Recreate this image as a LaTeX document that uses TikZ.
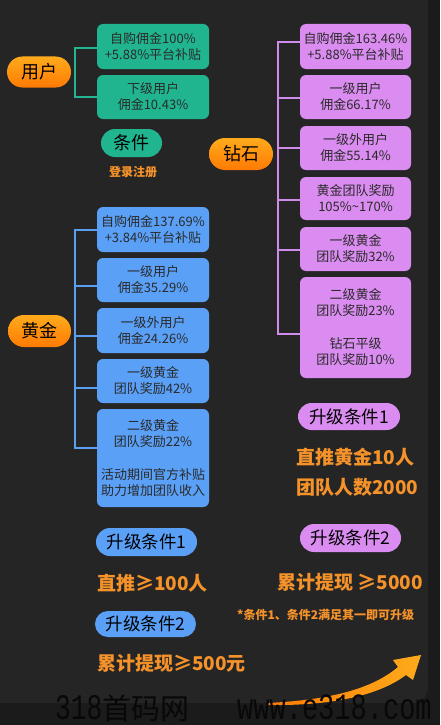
\documentclass[tikz,border=0pt]{standalone}
\usepackage{fontspec}
\usetikzlibrary{shapes.misc}
\newfontfamily\cjk{Noto Sans CJK SC}
\newfontfamily\wmmono{Liberation Mono}
\definecolor{bgout}{HTML}{1B1B1B}
\definecolor{bgpanel}{HTML}{252525}
\definecolor{cgreen}{HTML}{20B58F}
\definecolor{cpurple}{HTML}{DA8CF0}
\definecolor{cblue}{HTML}{5AA0F6}
\definecolor{lgreen}{HTML}{26B592}
\definecolor{lpurple}{HTML}{D08AEA}
\definecolor{lblue}{HTML}{5A9FF0}
\definecolor{corange}{HTML}{F5922A}
\definecolor{otop}{HTML}{FFAB1C}
\definecolor{obot}{HTML}{FF7A03}
\definecolor{boxtext}{HTML}{2A2A2A}
\definecolor{wmcol}{HTML}{080808}
\tikzset{
  box/.style={rounded corners=6pt, inner sep=0pt, align=center, text=boxtext,
    font=\cjk\fontsize{13}{16}\selectfont},
  gbox/.style={box, fill=cgreen, minimum width=112pt},
  pbox/.style={box, fill=cpurple, minimum width=111pt},
  bbox/.style={box, fill=cblue, minimum width=112pt},
  opill/.style={rounded rectangle, top color=otop, bottom color=obot, text=black,
    inner sep=0pt, minimum width=64pt, minimum height=32pt,
    font=\cjk\fontsize{18}{18}\selectfont},
  cpill/.style={rounded rectangle, inner sep=0pt, text=black,
    font=\cjk\fontsize{17.5}{18}\selectfont, minimum width=101pt, minimum height=28pt},
  otext/.style={text=corange, anchor=west, inner sep=0pt,
    font=\cjk\bfseries\fontsize{19}{19}\selectfont},
  gline/.style={draw=lgreen, line width=2pt},
  pline/.style={draw=lpurple, line width=2pt},
  bline/.style={draw=lblue, line width=2pt},
  wmtext/.style={anchor=base west, inner sep=0pt, text=wmcol, fill=none},
}
\begin{document}
\begin{tikzpicture}[x=1pt,y=-1pt]
\useasboundingbox (0,0) rectangle (440,725);
\fill[bgout] (0,0) rectangle (440,725);
\fill[bgpanel, rounded corners=16pt] (-20,-20) rectangle (428,703);

% ---- user ----
\node[opill, minimum height=31pt] (user) at (39,72) {用户};
\node[gbox, minimum height=45pt] (g1) at (153,46.5) {自购佣金100\%\\+5.88\%平台补贴};
\node[gbox, minimum height=44pt] (g2) at (153,97) {下级用户\\佣金10.43\%};
\draw[gline] ([yshift=-1.5pt]g1.west) -- ++(-22,0) |- (g2.west);
\node[cpill, fill=cgreen, minimum width=61pt, font=\cjk\fontsize{18}{18}\selectfont] (cond) at (131.5,143) {条件};
\node[text=corange, inner sep=0pt, font=\cjk\bfseries\fontsize{12}{12}\selectfont] (reg) at (133,172) {登录注册};

% ---- diamond ----
\node[opill] (dia) at (241,154) {钻石};
\node[pbox, minimum height=45pt] (p1) at (355.5,46.5) {自购佣金163.46\%\\+5.88\%平台补贴};
\node[pbox, minimum height=44pt] (p2) at (355.5,97) {一级用户\\佣金66.17\%};
\node[pbox, minimum height=44pt] (p3) at (355.5,148) {一级外用户\\佣金55.14\%};
\node[pbox, minimum height=43pt] (p4) at (355.5,198.5) {黄金团队奖励\\105\%\textasciitilde170\%};
\node[pbox, minimum height=44pt] (p5) at (355.5,249) {一级黄金\\团队奖励32\%};
\node[pbox, minimum height=101pt] (p6) at (355.5,327.5) {二级黄金\\团队奖励23\%\\[17pt]钻石平级\\团队奖励10\%};
\draw[pline] ([yshift=4.5pt]p1.west) -- ++(-22,0) |- ([yshift=-6.5pt]p6.west);
\draw[pline] ([yshift=-1pt]p2.west) -- ++(-22,0);
\draw[pline] (p3.west) -- ++(-22,0);
\draw[pline] ([yshift=-1.5pt]p4.west) -- ++(-22,0);
\draw[pline] ([yshift=-1pt]p5.west) -- ++(-22,0);

% ---- gold ----
\node[opill, minimum width=63pt] (gold) at (39.5,331) {黄金};
\node[bbox, minimum height=45pt] (b1) at (153,229.5) {自购佣金137.69\%\\+3.84\%平台补贴};
\node[bbox, minimum height=44pt] (b2) at (153,280) {一级用户\\佣金35.29\%};
\node[bbox, minimum height=45pt] (b3) at (153,330.5) {一级外用户\\佣金24.26\%};
\node[bbox, minimum height=44pt] (b4) at (153,381) {一级黄金\\团队奖励42\%};
\node[bbox, minimum height=98pt] (b5) at (153,458) {二级黄金\\团队奖励22\%\\[17pt]活动期间官方补贴\\助力增加团队收入};
\draw[bline] (b1.west) -- ++(-22,0) |- ([yshift=10pt]b5.west);
\draw[bline] ([yshift=-6pt]b2.west) -- ++(-22,0);
\draw[bline] ([yshift=-5.5pt]b3.west) -- ++(-22,0);
\draw[bline] ([yshift=-6.5pt]b4.west) -- ++(-22,0);

% ---- gold upgrade ----
\node[cpill, fill=cblue] (gc1) at (146.5,542) {升级条件1};
\node[otext] (gt1) at (97,583) {直推≥100人};
\node[cpill, fill=cblue, minimum height=26pt] (gc2) at (145.5,624) {升级条件2};
\node[otext] (gt2) at (97,663) {累计提现≥500元};

% ---- diamond upgrade ----
\node[cpill, fill=cpurple, minimum width=102pt, minimum height=27pt] (dc1) at (349,416.5) {升级条件1};
\node[otext] (dt1) at (296,457) {直推黄金10人};
\node[otext] (dt2) at (296,487) {团队人数2000};
\node[cpill, fill=cpurple] (dc2) at (350.5,538) {升级条件2};
\node[otext] (dt3) at (277,582) {累计提现 ≥5000};
\node[text=corange, anchor=west, inner sep=0pt, font=\cjk\bfseries\fontsize{12}{12}\selectfont] (note) at (237,615) {*条件1、条件2满足其一即可升级};

% ---- arrow ----
\shade[left color=obot, right color=otop]
  (267,703) .. controls (330,700) and (372,689) .. (398,667)
  -- (393,660) -- (421,655) -- (413,680) -- (406,675)
  .. controls (378,696) and (330,706) .. (267,705) -- cycle;

% ---- watermark ----
\node[wmtext] (wm1) at (55,719)
  {\color{wmcol}\wmmono\fontsize{36}{36}\selectfont\scalebox{0.73}[1]{318}\cjk\fontsize{29}{29}\selectfont 首码网};
\node[wmtext] (wm2) at (237,719)
  {\color{wmcol}\wmmono\fontsize{37}{37}\selectfont\scalebox{0.73}[1]{www.e318.com}};
\end{tikzpicture}
\end{document}
